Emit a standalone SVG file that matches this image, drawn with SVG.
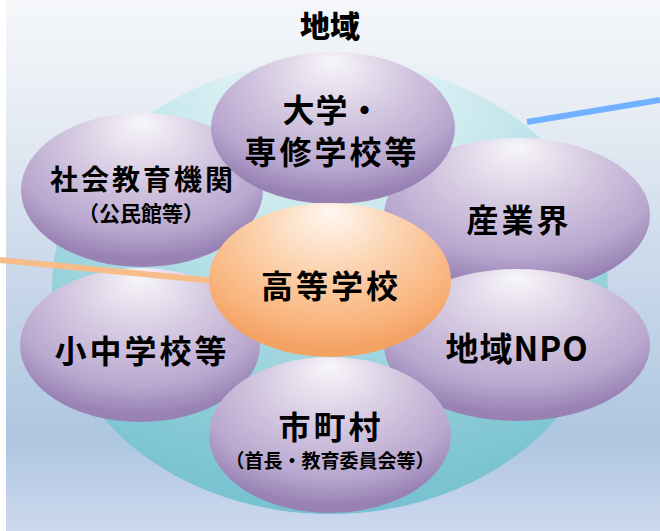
<svg xmlns="http://www.w3.org/2000/svg" width="660" height="531" viewBox="0 0 660 531">
<defs>
<linearGradient id="bg" x1="0" y1="0" x2="0" y2="1">
<stop offset="0" stop-color="#f5f7fa"/>
<stop offset="0.2" stop-color="#e8edf4"/>
<stop offset="0.5" stop-color="#cbd9ea"/>
<stop offset="0.83" stop-color="#aec6e0"/>
<stop offset="1" stop-color="#cdd9ef"/>
</linearGradient>
<radialGradient id="teal" cx="0.5" cy="0.15" r="0.95" fx="0.5" fy="0.02">
<stop offset="0" stop-color="#f2fafb"/>
<stop offset="0.35" stop-color="#c4e6ec"/>
<stop offset="0.75" stop-color="#88cad6"/>
<stop offset="1" stop-color="#6cbccd"/>
</radialGradient>
<radialGradient id="purple" cx="0.5" cy="0.3" r="0.65" fx="0.5" fy="0.05">
<stop offset="0" stop-color="#f8f6fa"/>
<stop offset="0.45" stop-color="#d4c8e0"/>
<stop offset="0.8" stop-color="#b9a7cf"/>
<stop offset="1" stop-color="#9882b4"/>
</radialGradient>
<radialGradient id="orange" cx="0.5" cy="0.3" r="0.65" fx="0.5" fy="0.05">
<stop offset="0" stop-color="#fff8f2"/>
<stop offset="0.45" stop-color="#fcd2ae"/>
<stop offset="0.8" stop-color="#f9b680"/>
<stop offset="1" stop-color="#f4a264"/>
</radialGradient>
<style>
.p{fill:url(#purple)}
.o{fill:url(#orange)}
text{font-family:"Noto Sans CJK JP","Liberation Sans",sans-serif;font-weight:bold;fill:#000;text-anchor:middle;dominant-baseline:central}
.big{font-size:32px;letter-spacing:3px}
.mid{font-size:28px;letter-spacing:3px}
.sm{font-size:21px}
.xs{font-size:19px}
</style>
</defs>
<rect x="0" y="0" width="660" height="531" fill="#ffffff"/>
<rect x="6" y="0" width="654" height="531" fill="url(#bg)"/>
<text x="330" y="24" style="font-size:30px;font-weight:900">地域</text>
<ellipse cx="330" cy="287" rx="278" ry="227" fill="url(#teal)"/>
<g id="n-shakai"><ellipse class="p" cx="142" cy="190" rx="121" ry="77"/>
<text class="mid" x="143" y="178">社会教育機関</text>
<text class="sm" x="141" y="212">（公民館等）</text></g>
<g id="n-sangyo"><ellipse class="p" cx="517" cy="215" rx="133" ry="77"/>
<text class="big" x="519" y="218">産業界</text></g>
<g id="n-daigaku"><ellipse class="p" cx="333" cy="128" rx="122" ry="76"/>
<text class="big" x="332" y="108" style="letter-spacing:1px">大学・</text>
<text class="big" x="332" y="150">専修学校等</text></g>
<g id="n-shochu"><ellipse class="p" cx="140" cy="345" rx="120" ry="77"/>
<text class="big" x="142" y="349">小中学校等</text></g>
<g id="n-npo"><ellipse class="p" cx="517" cy="345" rx="133" ry="76"/>
<text class="big" x="517" y="347" style="letter-spacing:1px;font-size:33px">地域NPO</text></g>
<g id="connectors">
<line x1="527" y1="122" x2="660" y2="100" stroke="#70b2ff" stroke-width="6"/>
<line x1="0" y1="260" x2="215" y2="281" stroke="#f8bc88" stroke-width="6"/>
</g>
<g id="n-koto"><ellipse class="o" cx="330" cy="280" rx="121" ry="77"/>
<text class="big" x="331" y="284">高等学校</text></g>
<g id="n-shichoson"><ellipse class="p" cx="330" cy="435" rx="121" ry="78"/>
<text class="big" x="331" y="425">市町村</text>
<text class="xs" x="330" y="459">（首長・教育委員会等）</text></g>
</svg>
